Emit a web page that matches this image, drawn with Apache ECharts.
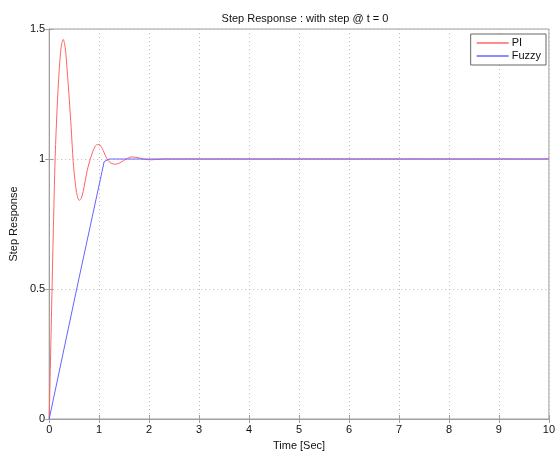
<!DOCTYPE html>
<html>
<head>
<meta charset="utf-8">
<script src="https://cdn.jsdelivr.net/npm/echarts@6/dist/echarts.min.js"></script>
<style>
html,body{margin:0;padding:0;background:#fff;}
#chart{width:558px;height:456px;}
</style>
</head>
<body>
<div id="chart"></div>
<script>
var titleText = 'Step Response : with step @ t = 0';
var xName = 'Time [Sec]';
var yName = 'Step Response';
var seriesNames = ['PI', 'Fuzzy'];
var xTicks = [0, 1, 2, 3, 4, 5, 6, 7, 8, 9, 10];
var yTicks = [0, 0.5, 1, 1.5];

var piTime  = [0, 0.04, 0.08, 0.12, 0.16, 0.20, 0.24, 0.28, 0.32, 0.36, 0.40, 0.44, 0.48, 0.52, 0.56, 0.60, 0.64, 0.68, 0.72, 0.76, 0.80, 0.84, 0.88, 0.92, 0.96, 1.00, 1.04, 1.08, 1.12, 1.16, 1.20, 1.26, 1.33, 1.40, 1.48, 1.56, 1.66, 1.78, 1.90, 2.05, 2.3, 10];
var piValue = [0, 0.35, 0.70, 1.01, 1.20, 1.34, 1.43, 1.46, 1.43, 1.34, 1.235, 1.12, 0.99, 0.91, 0.86, 0.841, 0.848, 0.875, 0.915, 0.955, 0.985, 1.01, 1.033, 1.048, 1.056, 1.056, 1.048, 1.033, 1.015, 1.0, 0.99, 0.982, 0.98, 0.984, 0.993, 1.002, 1.008, 1.005, 0.999, 0.997, 1.0, 1.0];

var fuzzyTime  = [0, 0.55, 1.1, 1.2, 10];
var fuzzyValue = [0, 0.5, 0.99, 1.0, 1.0];

function pairs(xs, ys) { return xs.map(function (x, i) { return [x, ys[i]]; }); }

var FONT = 'Liberation Sans, Arial, sans-serif';
var axisGray = '#a0a0a0';
var chart = echarts.init(document.getElementById('chart'), null, {renderer: 'canvas'});

var option = {
  backgroundColor: '#fff',
  animation: false,
  title: {
    text: titleText,
    left: 300, top: 8, textAlign: 'center',
    textStyle: {fontFamily: FONT, fontSize: 11, fontWeight: 'normal', color: '#111'}
  },
  legend: {
    data: seriesNames,
    icon: 'path://M0,0L32,0L32,1.4L0,1.4Z',
    orient: 'vertical',
    right: 12, top: 34,
    backgroundColor: '#fff',
    borderColor: '#666', borderWidth: 1,
    padding: [3, 5, 3, 6],
    itemWidth: 32, itemHeight: 10, itemGap: 1,
    textStyle: {fontFamily: FONT, fontSize: 11, color: '#111', lineHeight: 12, padding: [0, 0, 0, -2]}
  },
  grid: {left: 48, right: 6, top: 29, bottom: 29, containLabel: false,
         show: true, borderColor: axisGray, borderWidth: 1},
  xAxis: [{
    type: 'value', min: 0, max: 10, interval: 1,
    name: xName, nameLocation: 'middle', nameGap: 21,
    nameTextStyle: {fontFamily: FONT, fontSize: 11, color: '#111'},
    axisLine: {show: true, lineStyle: {color: axisGray}},
    axisTick: {show: true, inside: true, length: 4, lineStyle: {color: axisGray}},
    axisLabel: {fontFamily: FONT, fontSize: 11, color: '#111', margin: 5,
      formatter: function (v) { return xTicks.indexOf(v) >= 0 ? String(v) : ''; }},
    splitLine: {show: true, lineStyle: {color: '#b8b8b8', type: [1, 3], width: 1}}
  }, {
    type: 'value', min: 0, max: 10, interval: 1, position: 'top',
    axisLine: {show: true, lineStyle: {color: axisGray}},
    axisTick: {show: true, inside: true, length: 4, lineStyle: {color: axisGray}},
    axisLabel: {show: false}, splitLine: {show: false}
  }],
  yAxis: [{
    type: 'value', min: 0, max: 1.5, interval: 0.5,
    name: yName, nameLocation: 'middle', nameGap: 25,
    nameTextStyle: {fontFamily: FONT, fontSize: 11, color: '#111'},
    axisLine: {show: true, lineStyle: {color: axisGray}},
    axisTick: {show: true, inside: true, length: 4, lineStyle: {color: axisGray}},
    axisLabel: {fontFamily: FONT, fontSize: 11, color: '#111', margin: 4,
      formatter: function (v) { return yTicks.indexOf(v) >= 0 ? String(v) : ''; }},
    splitLine: {show: true, lineStyle: {color: '#b8b8b8', type: [1, 3], width: 1}}
  }, {
    type: 'value', min: 0, max: 1.5, interval: 0.5, position: 'right',
    axisLine: {show: true, lineStyle: {color: axisGray}},
    axisTick: {show: true, inside: true, length: 4, lineStyle: {color: axisGray}},
    axisLabel: {show: false}, splitLine: {show: false}
  }],
  series: [{
    name: seriesNames[0], type: 'line',
    data: pairs(piTime, piValue),
    showSymbol: false, symbol: 'none',
    smooth: 0.3,
    lineStyle: {color: '#ff6464', width: 1},
    itemStyle: {color: '#ff6464'}
  }, {
    name: seriesNames[1], type: 'line',
    data: pairs(fuzzyTime, fuzzyValue),
    showSymbol: false, symbol: 'none',
    lineStyle: {color: '#6464ff', width: 1},
    itemStyle: {color: '#6464ff'}
  }]
};
chart.setOption(option);
</script>
</body>
</html>
